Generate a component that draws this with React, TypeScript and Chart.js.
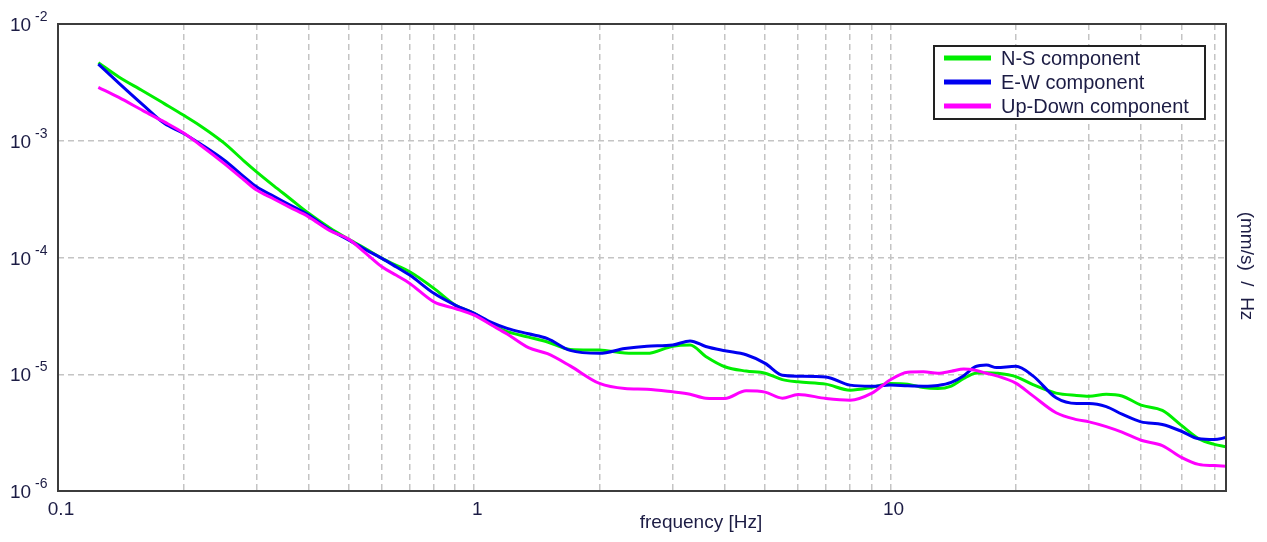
import { useEffect, useRef } from 'react';
import { Chart, registerables } from 'chart.js';

Chart.register(...registerables);

const frequencies = [
  0.125, 0.14, 0.16, 0.18, 0.2, 0.22, 0.25, 0.28, 0.3, 0.33, 0.36, 0.4, 0.45, 0.5, 0.55, 0.6, 0.65, 0.7, 0.8, 0.9,
  1, 1.1, 1.2, 1.35, 1.5, 1.7, 2, 2.3, 2.6, 3, 3.3, 3.6, 4, 4.5, 5, 5.5, 6, 7, 8, 9,
  10, 11, 12, 13, 14, 15, 16, 17, 18, 20, 22, 25, 28, 30, 33, 36, 40, 45, 50, 55, 60, 64,
];

const nsComponent = [
  4.66e-3, 3.52e-3, 2.67e-3, 2.08e-3, 1.66e-3, 1.34e-3, 9.63e-4, 6.7e-4, 5.42e-4, 4.11e-4, 3.22e-4, 2.39e-4, 1.79e-4, 1.43e-4, 1.18e-4, 9.82e-5, 8.58e-5, 7.54e-5, 5.44e-5, 3.91e-5,
  3.32e-5, 2.67e-5, 2.32e-5, 2.08e-5, 1.89e-5, 1.63e-5, 1.61e-5, 1.52e-5, 1.51e-5, 1.74e-5, 1.78e-5, 1.42e-5, 1.16e-5, 1.065e-5, 1.02e-5, 8.99e-6, 8.61e-6, 8.23e-6, 7.31e-6, 7.71e-6,
  8.34e-6, 8.23e-6, 7.68e-6, 7.55e-6, 7.92e-6, 9.19e-6, 1.02e-5, 1.03e-5, 1.02e-5, 9.54e-6, 8.15e-6, 6.89e-6, 6.58e-6, 6.49e-6, 6.74e-6, 6.52e-6, 5.44e-6, 4.9e-6, 3.65e-6, 2.81e-6, 2.51e-6, 2.39e-6,
];

const ewComponent = [
  4.54e-3, 3.12e-3, 2.03e-3, 1.41e-3, 1.16e-3, 9.37e-4, 6.87e-4, 4.91e-4, 4.03e-4, 3.34e-4, 2.83e-4, 2.31e-4, 1.73e-4, 1.41e-4, 1.16e-4, 9.82e-5, 8.29e-5, 7.07e-5, 4.93e-5, 3.91e-5,
  3.32e-5, 2.78e-5, 2.47e-5, 2.22e-5, 2.02e-5, 1.6e-5, 1.51e-5, 1.66e-5, 1.74e-5, 1.78e-5, 1.93e-5, 1.73e-5, 1.59e-5, 1.47e-5, 1.24e-5, 9.8e-6, 9.63e-6, 9.48e-6, 8.07e-6, 7.91e-6,
  8.07e-6, 7.96e-6, 7.91e-6, 8.02e-6, 8.52e-6, 9.73e-6, 1.16e-5, 1.2e-5, 1.14e-5, 1.17e-5, 9.69e-6, 6.29e-6, 5.62e-6, 5.62e-6, 5.28e-6, 4.55e-6, 3.91e-6, 3.71e-6, 3.25e-6, 2.8e-6, 2.76e-6, 2.87e-6,
];

const udComponent = [
  2.87e-3, 2.35e-3, 1.81e-3, 1.45e-3, 1.17e-3, 9.15e-4, 6.44e-4, 4.61e-4, 3.78e-4, 3.17e-4, 2.7e-4, 2.23e-4, 1.7e-4, 1.43e-4, 1.08e-4, 8.32e-5, 7.04e-5, 6.0e-5, 4.17e-5, 3.66e-5,
  3.21e-5, 2.64e-5, 2.21e-5, 1.69e-5, 1.5e-5, 1.18e-5, 8.34e-6, 7.55e-6, 7.45e-6, 7.07e-6, 6.75e-6, 6.24e-6, 6.2e-6, 7.21e-6, 7.03e-6, 6.24e-6, 6.71e-6, 6.2e-6, 6.0e-6, 6.85e-6,
  8.97e-6, 1.04e-5, 1.05e-5, 1.02e-5, 1.06e-5, 1.11e-5, 1.08e-5, 1.02e-5, 9.69e-6, 8.39e-6, 6.53e-6, 4.68e-6, 4.09e-6, 3.91e-6, 3.56e-6, 3.19e-6, 2.72e-6, 2.45e-6, 1.94e-6, 1.69e-6, 1.65e-6, 1.63e-6,
];

const seriesNames = ['N-S component', 'E-W component', 'Up-Down component'];
const seriesColors = ['#00ee00', '#0000f0', '#ff00ff'];

const xGridValues = [
  0.1, 0.2, 0.3, 0.4, 0.5, 0.6, 0.7, 0.8, 0.9,
  1, 2, 3, 4, 5, 6, 7, 8, 9,
  10, 20, 30, 40, 50, 60,
];
const xLabeledValues = [0.1, 1, 10];
const xLabelTexts = ['0.1', '1', '10'];
const yExponents = [-6, -5, -4, -3, -2];
const xMin = 0.1;
const xMax = 64;

const xTitle = 'frequency [Hz]';
const yTitle = '(mm/s)  /  Hz';

const FONT = "Arial, 'Liberation Sans', sans-serif";
const TEXT_COLOR = '#1c1c44';

const decorPlugin = {
  id: 'decor',
  afterDatasetsDraw(chart: any) {
    const { ctx, chartArea } = chart;
    const yScale = chart.scales.y;
    ctx.save();
    // plot frame
    ctx.strokeStyle = '#3c3c3c';
    ctx.lineWidth = 2;
    ctx.strokeRect(chartArea.left, chartArea.top, chartArea.right - chartArea.left, chartArea.bottom - chartArea.top);

    // y tick labels: 10^n
    ctx.fillStyle = TEXT_COLOR;
    ctx.textAlign = 'left';
    ctx.textBaseline = 'alphabetic';
    yExponents.forEach((e) => {
      const y = yScale.getPixelForValue(Math.pow(10, e));
      ctx.font = `19px ${FONT}`;
      ctx.fillText('10', 10, y + 7);
      ctx.font = `14px ${FONT}`;
      ctx.fillText(String(e), 35, y - 3);
    });

    // x title
    ctx.font = `19px ${FONT}`;
    ctx.textAlign = 'center';
    ctx.fillText(xTitle, 701, 528);

    // y title (right side, rotated)
    ctx.save();
    ctx.translate(1246, 266);
    ctx.rotate(Math.PI / 2);
    ctx.textAlign = 'center';
    ctx.textBaseline = 'middle';
    ctx.fillText(yTitle, 0, 0);
    ctx.restore();

    // legend
    const lx = 934, ly = 46, lw = 271, lh = 73;
    ctx.fillStyle = '#ffffff';
    ctx.fillRect(lx, ly, lw, lh);
    ctx.strokeStyle = '#222222';
    ctx.lineWidth = 2;
    ctx.strokeRect(lx, ly, lw, lh);
    seriesNames.forEach((name, i) => {
      const y = 58 + i * 24;
      ctx.strokeStyle = seriesColors[i];
      ctx.lineWidth = 5;
      ctx.beginPath();
      ctx.moveTo(944, y);
      ctx.lineTo(991, y);
      ctx.stroke();
      ctx.fillStyle = TEXT_COLOR;
      ctx.font = `20px ${FONT}`;
      ctx.textAlign = 'left';
      ctx.textBaseline = 'alphabetic';
      ctx.fillText(name, 1001, y + 7);
    });
    ctx.restore();
  },
};

export default function App() {
  const ref = useRef<HTMLCanvasElement>(null);

  useEffect(() => {
    const seriesValues = [nsComponent, ewComponent, udComponent];
    const chart = new Chart(ref.current as HTMLCanvasElement, {
      type: 'line',
      data: {
        datasets: seriesValues.map((vals, i) => ({
          label: seriesNames[i],
          data: frequencies.map((f, k) => ({ x: f, y: vals[k] })),
          borderColor: seriesColors[i],
          backgroundColor: seriesColors[i],
          borderWidth: 3,
          pointRadius: 0,
          fill: false,
          cubicInterpolationMode: 'monotone',
          order: 3 - i,
        })),
      },
      options: {
        animation: false,
        responsive: false,
        devicePixelRatio: 1,
        layout: { padding: { left: 0, top: 24, right: 41, bottom: 0 } },
        plugins: {
          legend: { display: false },
          tooltip: { enabled: false },
        },
        scales: {
          x: {
            type: 'logarithmic',
            min: xMin,
            max: xMax,
            afterBuildTicks: (scale: any) => {
              scale.ticks = xGridValues.map((v) => ({ value: v }));
            },
            afterFit: (scale: any) => {
              scale.height = 51;
            },
            ticks: {
              autoSkip: false,
              maxRotation: 0,
              padding: 7,
              labelOffset: 3,
              color: TEXT_COLOR,
              font: { size: 19, family: FONT },
              callback: (value: any) => {
                const idx = xLabeledValues.findIndex((v) => Math.abs(v - Number(value)) < 1e-9);
                return idx >= 0 ? xLabelTexts[idx] : '';
              },
            },
            grid: { color: '#c4c4c4', lineWidth: 1.5, drawTicks: false },
            border: { display: false, dash: [6, 4] },
          },
          y: {
            type: 'logarithmic',
            min: 1e-6,
            max: 1e-2,
            afterBuildTicks: (scale: any) => {
              scale.ticks = yExponents.map((e) => ({ value: Math.pow(10, e) }));
            },
            afterFit: (scale: any) => {
              scale.width = 58;
            },
            ticks: { display: false },
            grid: { color: '#c4c4c4', lineWidth: 1.5, drawTicks: false },
            border: { display: false, dash: [6, 4] },
          },
        },
      },
      plugins: [decorPlugin],
    } as any);
    return () => chart.destroy();
  }, []);

  return (
    <div style={{ position: 'absolute', left: 0, top: 0, width: 1267, height: 542, background: '#ffffff' }}>
      <canvas ref={ref} width={1267} height={542} style={{ display: 'block', width: 1267, height: 542 }} />
    </div>
  );
}
